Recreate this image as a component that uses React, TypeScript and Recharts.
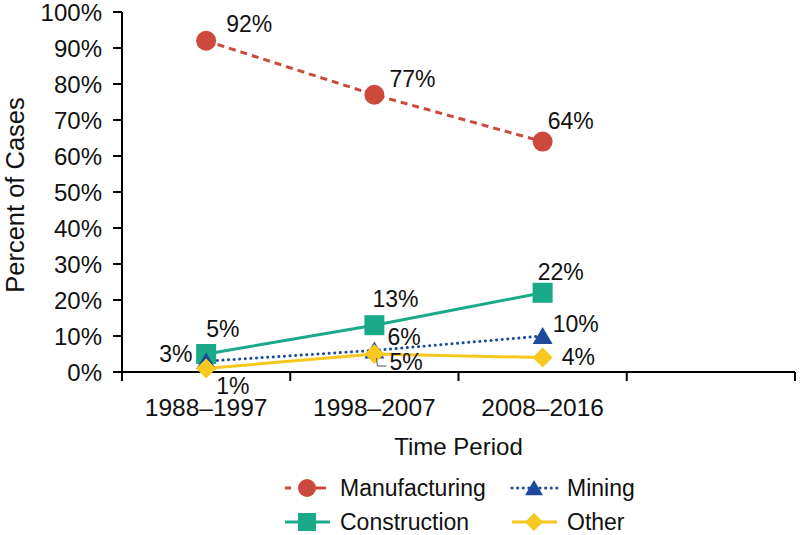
import React from 'react'
import { LineChart, Line, XAxis, YAxis, Legend, LabelList, Label } from 'recharts'

const categories = ['1988–1997', '1998–2007', '2008–2016', '']
const manufacturing = [92, 77, 64]
const construction = [5, 13, 22]
const mining = [3, 6, 10]
const other = [1, 5, 4]
const yTicks = [0, 10, 20, 30, 40, 50, 60, 70, 80, 90, 100]

const FONT = '"Liberation Sans", Arial, Helvetica, sans-serif'
const PLOT_BOTTOM = 372

const chartData = categories.map((period, i) => ({
  period,
  manufacturing: manufacturing[i],
  construction: construction[i],
  mining: mining[i],
  other: other[i],
}))

// label placement per point: [dx, dy] from the marker to the text start/baseline
const labelOffsets: Record<string, number[][]> = {
  manufacturing: [[20, -9], [15, -8], [5, -13]],
  construction: [[0, -17], [-2, -18], [-5, -13]],
  mining: [[-47, 1], [13, -5], [10, -4]],
  other: [[10, 26], [15, 16], [19, 7]],
}

const series = [
  { key: 'manufacturing', name: 'Manufacturing', color: '#CC4A3C', dash: '7 5', cap: 'butt', shape: 'circle' },
  { key: 'construction', name: 'Construction', color: '#1AAA8A', dash: undefined, cap: 'butt', shape: 'square' },
  { key: 'mining', name: 'Mining', color: '#1D4A9A', dash: '0.1 5.5', cap: 'round', shape: 'triangle' },
  { key: 'other', name: 'Other', color: '#F8C81E', dash: undefined, cap: 'butt', shape: 'diamond' },
]

function Marker({ shape, cx, cy, color, size }: { shape: string; cx: number; cy: number; color: string; size: number }) {
  const h = size / 2
  if (shape === 'circle') return <circle cx={cx} cy={cy} r={h} fill={color} />
  if (shape === 'square') return <rect x={cx - h} y={cy - h} width={size} height={size} fill={color} />
  if (shape === 'triangle')
    return <polygon points={`${cx},${cy - h * 0.9} ${cx + h},${cy + h * 0.8} ${cx - h},${cy + h * 0.8}`} fill={color} />
  return <polygon points={`${cx},${cy - h} ${cx + h},${cy} ${cx},${cy + h} ${cx - h},${cy}`} fill={color} />
}

const makeDot = (shape: string, color: string) => (props: any) => {
  const { cx, cy, index, value } = props
  if (cy == null || value == null) return <g key={`d-${index}`} />
  return <Marker key={`d-${index}`} shape={shape} cx={cx} cy={cy} color={color} size={20} />
}

const makeLabel = (key: string) => (props: any) => {
  const { x, y, value, index } = props
  if (value == null || y == null) return null
  const [dx, dy] = labelOffsets[key][index] || [10, -10]
  return (
    <g>
      {key === 'other' && index === 1 && (
        <polyline points={`${x + 2},${y + 4} ${x + 3},${y + 12} ${x + 12},${y + 12}`} fill="none" stroke="#555" strokeWidth={1} />
      )}
      <text x={x + dx} y={y + dy} fontSize={23} fontFamily={FONT} fill="#111">
        {value}%
      </text>
    </g>
  )
}

const PeriodTick = (props: any) => {
  const { x, payload, index } = props
  const half = payload.offset || 84
  return (
    <g>
      <line x1={x - half} x2={x - half} y1={PLOT_BOTTOM} y2={PLOT_BOTTOM + 9} stroke="#000" strokeWidth={2} />
      {index === categories.length - 1 && (
        <line x1={x + half} x2={x + half} y1={PLOT_BOTTOM} y2={PLOT_BOTTOM + 9} stroke="#000" strokeWidth={2} />
      )}
      <text x={x} y={416} textAnchor="middle" fontSize={24.5} fontFamily={FONT} fill="#111">
        {payload.value}
      </text>
    </g>
  )
}

const YTitle = () => (
  <text x={24} y={195} transform="rotate(-90 24 195)" textAnchor="middle" fontSize={25.5} fontFamily={FONT} fill="#111">
    Percent of Cases
  </text>
)

const renderLegend = () => {
  const slots = [
    { s: series[0], x: 15, y: 23 },
    { s: series[2], x: 242, y: 23 },
    { s: series[1], x: 15, y: 57 },
    { s: series[3], x: 242, y: 57 },
  ]
  return (
    <svg width={400} height={75}>
      {slots.map(({ s, x, y }) => (
        <g key={s.key}>
          <line
            x1={x}
            x2={x + 45}
            y1={y}
            y2={y}
            stroke={s.color}
            strokeWidth={3}
            strokeDasharray={s.key === 'manufacturing' ? '6 11.5 6' : s.dash}
            strokeLinecap={s.cap as any}
          />
          <Marker shape={s.shape} cx={x + 22} cy={y} color={s.color} size={18} />
          <text x={x + 55} y={y + 8} fontSize={23} fontFamily={FONT} fill="#111">
            {s.name}
          </text>
        </g>
      ))}
    </svg>
  )
}

export default function App() {
  return (
    <div style={{ position: 'absolute', left: 0, top: 0, width: 800, height: 535, background: '#fff', fontFamily: FONT }}>
      <LineChart width={800} height={535} data={chartData} margin={{ top: 12, right: 5, left: 0, bottom: 73 }}>
        <XAxis
          dataKey="period"
          type="category"
          scale="band"
          interval={0}
          height={90}
          stroke="#000"
          axisLine={{ stroke: '#000', strokeWidth: 2 }}
          tickLine={false}
          tick={PeriodTick}
        >
          <Label value="Time Period" position="insideBottom" offset={7} fontSize={24} fill="#111" fontFamily={FONT} />
        </XAxis>
        <YAxis
          width={122}
          domain={[0, 100]}
          ticks={yTicks}
          interval={0}
          stroke="#000"
          tickFormatter={(v) => `${v}%`}
          axisLine={{ stroke: '#000', strokeWidth: 2 }}
          tickLine={{ stroke: '#000', strokeWidth: 2 }}
          tickSize={9}
          tickMargin={11}
          tick={{ fontSize: 24, fill: '#111', fontFamily: FONT }}
        >
          <Label content={YTitle} />
        </YAxis>
        <Legend
          layout="horizontal"
          verticalAlign="middle"
          align="center"
          wrapperStyle={{ left: 270, top: 465, width: 400, height: 75 }}
          content={renderLegend}
        />
        {series.map((s) => (
          <Line
            key={s.key}
            dataKey={s.key}
            name={s.name}
            stroke={s.color}
            strokeWidth={3}
            strokeDasharray={s.dash}
            strokeLinecap={s.cap as any}
            dot={makeDot(s.shape, s.color)}
            activeDot={false}
            isAnimationActive={false}
          >
            <LabelList dataKey={s.key} content={makeLabel(s.key)} />
          </Line>
        ))}
      </LineChart>
    </div>
  )
}
